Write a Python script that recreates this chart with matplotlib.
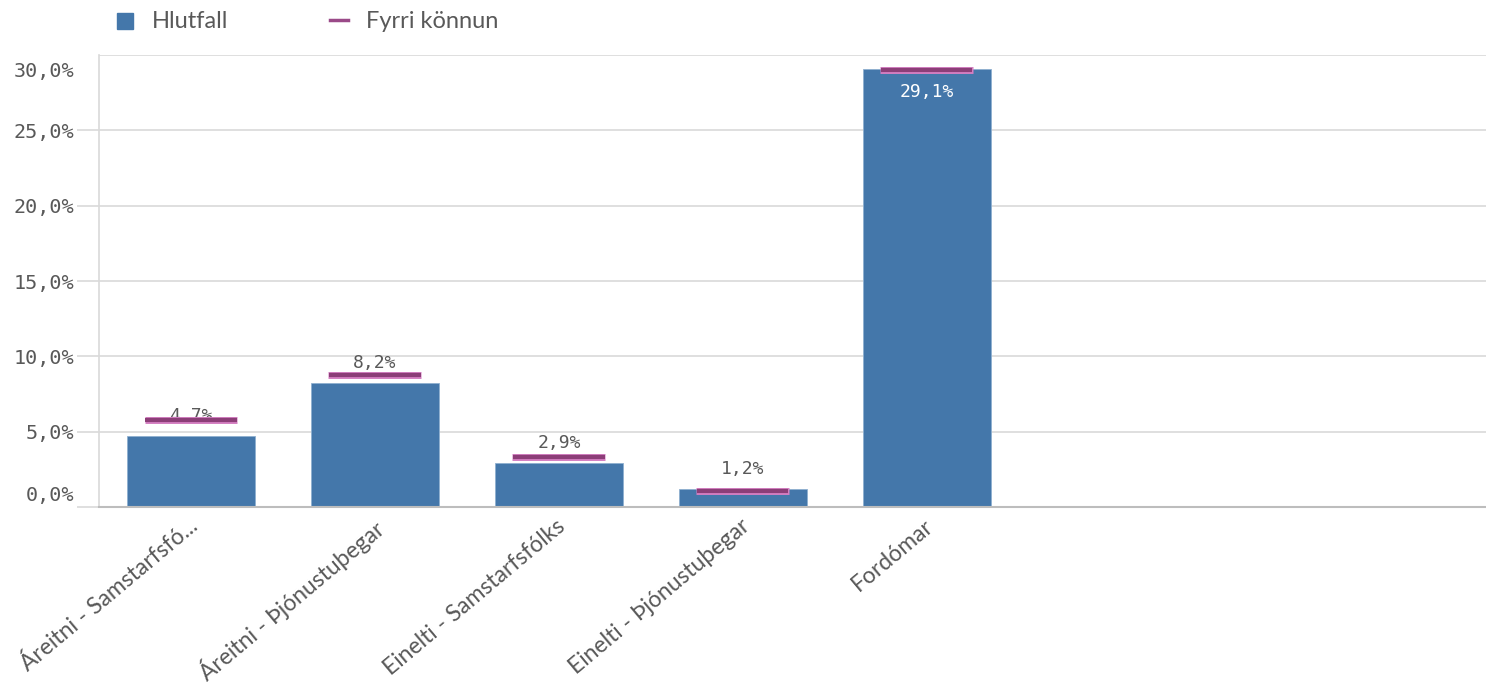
import matplotlib
matplotlib.use("Agg")
import matplotlib.pyplot as plt
import matplotlib.transforms as mtransforms
from matplotlib.patches import Rectangle
from matplotlib.lines import Line2D

# survey results, percent
categories = ["Áreitni - Samstarfsfó...", "Áreitni - Þjónustuþegar",
              "Einelti - Samstarfsfólks", "Einelti - Þjónustuþegar", "Fordómar"]
hlutfall = [4.7, 8.2, 2.9, 1.2, 29.1]
fyrri_konnun = [5.8, 8.75, 3.3, 1.05, 29.0]
yticks = [0, 5, 10, 15, 20, 25, 30]

bar_color = "#4477aa"
prev_edge = "#d47fc2"
prev_fill = "#8c3e78"
text_gray = "#595959"
grid_gray = "#d9d9d9"

W, H = 1486, 686
fig = plt.figure(figsize=(W / 100, H / 100), dpi=100)
ax = fig.add_axes([99 / W, (H - 507) / H, (W - 99) / W, (507 - 55) / H])

x = list(range(len(categories)))
ax.bar(x, hlutfall, width=0.696, color=bar_color, edgecolor="#8fb0d0",
       linewidth=0.6, zorder=2)

# previous survey as short horizontal bars
ax.hlines(fyrri_konnun, [i - 0.2525 for i in x], [i + 0.2525 for i in x],
          color=prev_edge, linewidth=5.0, zorder=3)
ax.hlines(fyrri_konnun, [i - 0.248 for i in x], [i + 0.248 for i in x],
          color=prev_fill, linewidth=3.0, zorder=4)

# value labels
for i, v in zip(x, hlutfall):
    txt = f"{v:.1f}%".replace(".", ",")
    if v > 20:
        off = mtransforms.ScaledTranslation(0, -23 / 100, fig.dpi_scale_trans)
        ax.text(i, v, txt, ha="center", va="center", color="white",
                fontsize=13, family="DejaVu Sans Mono",
                transform=ax.transData + off, zorder=5)
    else:
        off = mtransforms.ScaledTranslation(0, 20 / 100, fig.dpi_scale_trans)
        ax.text(i, v, txt, ha="center", va="center", color=text_gray,
                fontsize=13, family="DejaVu Sans Mono",
                transform=ax.transData + off, zorder=1)

ax.set_xlim(-0.5, 7.04)
ax.set_ylim(0, 30)
ax.set_yticks(yticks)
ax.set_yticklabels([f"{v:.1f}%".replace(".", ",") for v in yticks],
                   family="DejaVu Sans Mono", fontsize=14.5, color=text_gray)
ax.tick_params(axis="y", length=16, color=grid_gray, width=1.2, pad=2)
ax.yaxis.get_major_ticks()[-1].tick1line.set_visible(False)

# keep the end labels inside the plot height
ylabels = ax.get_yticklabels()
ylabels[0].set_transform(ylabels[0].get_transform() +
                         mtransforms.ScaledTranslation(0, 14 / 100, fig.dpi_scale_trans))
ylabels[-1].set_transform(ylabels[-1].get_transform() +
                          mtransforms.ScaledTranslation(0, -15 / 100, fig.dpi_scale_trans))

ax.set_xticks(x)
ax.set_xticklabels(categories, rotation=40, ha="right", va="top",
                   rotation_mode="anchor", fontsize=16.5, color=text_gray,
                   family="Lato")
ax.tick_params(axis="x", length=0, pad=6)
for lbl in ax.get_xticklabels():
    lbl.set_transform(lbl.get_transform() +
                      mtransforms.ScaledTranslation(-3 / 100, 0, fig.dpi_scale_trans))

ax.grid(axis="y", color=grid_gray, linewidth=1.2, zorder=0)
ax.set_axisbelow(True)
for s in ["top", "right"]:
    ax.spines[s].set_visible(False)
ax.spines["left"].set_color(grid_gray)
ax.spines["left"].set_linewidth(1.2)
ax.spines["bottom"].set_color("#bdbdbd")
ax.spines["bottom"].set_linewidth(1.5)

# legend drawn at the top left
fig.patches.append(Rectangle((117 / W, (H - 29) / H), 16 / W, 16 / H,
                             transform=fig.transFigure, color=bar_color))
fig.text(152 / W, (H - 21) / H, "Hlutfall", ha="left", va="center",
         fontsize=17, color=text_gray, family="Lato")
fig.lines.append(Line2D([330 / W, 348 / W], [(H - 20) / H] * 2,
                        transform=fig.transFigure, color="#9a4a88", linewidth=2.5))
fig.text(366 / W, (H - 21) / H, "Fyrri könnun", ha="left", va="center",
         fontsize=17, color=text_gray, family="Lato")

fig.savefig("out.png", dpi=100)
